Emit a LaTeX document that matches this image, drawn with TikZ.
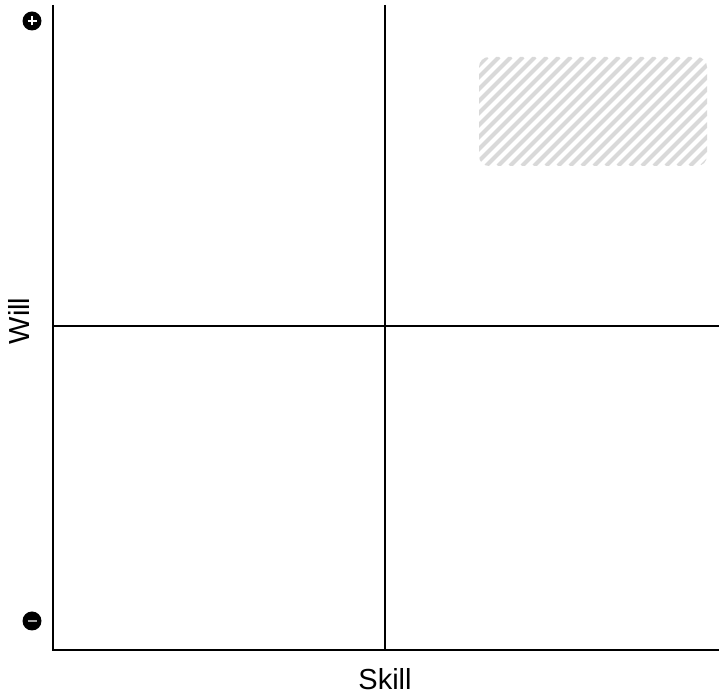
\documentclass[tikz,border=0pt]{standalone}
\usepackage{fontspec}
\setmainfont{Liberation Sans}
\usepackage{tikz}
\usetikzlibrary{positioning, calc}

\begin{document}
\begin{tikzpicture}[
  x=1pt, y=1pt,
  axis/.style={draw=black, line width=2pt},
  sign/.style={circle, fill=black, inner sep=0pt, minimum size=19pt},
  stripe/.style={draw=black!15, line width=4.2pt},
  label/.style={font=\fontsize{29}{33}\selectfont, anchor=base, inner sep=0pt}
]
\useasboundingbox (0,0) rectangle (721,696);
% axis end points
\coordinate (top) at (53,691);
\coordinate (origin) at (53,46);
\coordinate (right) at (719,46);
\coordinate (midtop) at (385,691);
\coordinate (midbot) at (385,46);
\coordinate (midleft) at (53,370);
\coordinate (midright) at (719,370);
% hatched target area
\begin{scope}
  \clip[rounded corners=10pt] (479,530) rectangle (707,639);
  \foreach \x in {366,378,...,714}
    \draw[stripe] (\x,530) -- ++(109,109);
\end{scope}
\draw[axis] (top) -- (origin) -- (right);
\draw[axis] (midtop) -- (midbot);
\draw[axis] (midleft) -- (midright);
\node[sign] (plus) at (32,675) {};
\draw[white, line width=2.4pt] ($(plus)+(-4.5,0)$) -- ($(plus)+(4.5,0)$);
\draw[white, line width=2.4pt] ($(plus)+(0,-4.5)$) -- ($(plus)+(0,4.5)$);
\node[sign] (minus) at (32,75) {};
\draw[black!35, line width=2.4pt] ($(minus)+(-4.5,0)$) -- ($(minus)+(4.5,0)$);
\node[label, rotate=90] (will) at (29,375) {Will};
\node[label] (skill) at (385,6.5) {Skill};
\end{tikzpicture}
\end{document}
